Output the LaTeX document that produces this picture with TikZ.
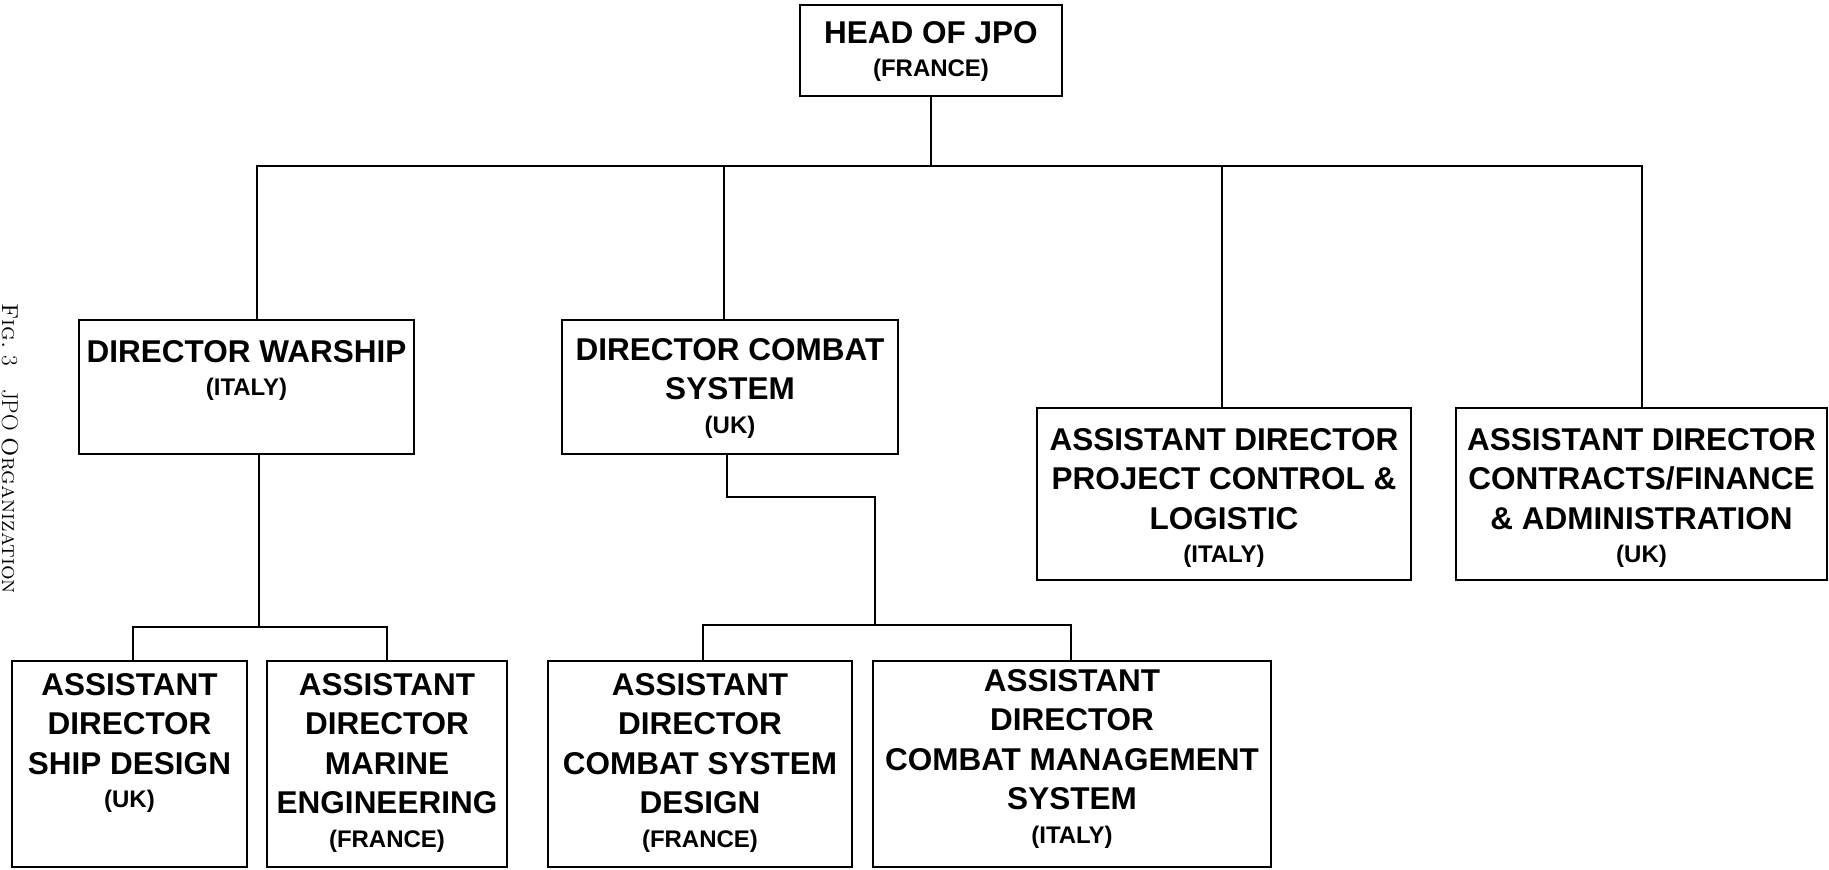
\documentclass[tikz,border=0pt]{standalone}
\usepackage{fontspec}
\newfontfamily\orgfont{Liberation Sans}
\newcommand{\cty}[1]{{\fontsize{24}{30}\selectfont(#1)}}
\begin{document}
\begin{tikzpicture}[x=1pt,y=-1pt,
  box/.style={draw, rectangle, inner sep=0pt, line width=1.8pt},
  txt/.style={anchor=north, align=center, inner sep=0pt, font=\orgfont\bfseries\fontsize{31.5}{39.5}\selectfont},
  conn/.style={draw, line width=1.8pt}]
\useasboundingbox (0,0) rectangle (1829,870);
% boxes
\node[box, minimum width=262pt, minimum height=91pt]  (head)    at (931,50.5) {};
\node[box, minimum width=335pt, minimum height=134pt] (warship) at (246.5,387) {};
\node[box, minimum width=336pt, minimum height=134pt] (combat)  at (730,387) {};
\node[box, minimum width=374pt, minimum height=172pt] (pcl)     at (1224,494) {};
\node[box, minimum width=371pt, minimum height=172pt] (cfa)     at (1641.5,494) {};
\node[box, minimum width=235pt, minimum height=206pt] (ship)    at (129.5,764) {};
\node[box, minimum width=240pt, minimum height=206pt] (marine)  at (387,764) {};
\node[box, minimum width=304pt, minimum height=206pt] (csd)     at (700,764) {};
\node[box, minimum width=398pt, minimum height=206pt] (cms)     at (1072,764) {};
% texts
\node[txt, yshift=-17pt] (headT) at (head.north) {HEAD OF JPO\\[-6pt]\cty{FRANCE}};
\node[txt, yshift=-21pt] (warshipT) at (warship.north) {DIRECTOR WARSHIP\\[-6pt]\cty{ITALY}};
\node[txt, yshift=-19pt] (combatT) at (combat.north) {DIRECTOR COMBAT\\SYSTEM\\[-6pt]\cty{UK}};
\node[txt, yshift=-21pt] (pclT) at (pcl.north) {ASSISTANT DIRECTOR\\PROJECT CONTROL \&\\LOGISTIC\\[-6pt]\cty{ITALY}};
\node[txt, yshift=-21pt] (cfaT) at (cfa.north) {ASSISTANT DIRECTOR\\CONTRACTS/FINANCE\\\& ADMINISTRATION\\[-6pt]\cty{UK}};
\node[txt, yshift=-13pt] (shipT) at (ship.north) {ASSISTANT\\DIRECTOR\\SHIP DESIGN\\[-6pt]\cty{UK}};
\node[txt, yshift=-13pt] (marineT) at (marine.north) {ASSISTANT\\DIRECTOR\\MARINE\\ENGINEERING\\[-6pt]\cty{FRANCE}};
\node[txt, yshift=-13pt] (csdT) at (csd.north) {ASSISTANT\\DIRECTOR\\COMBAT SYSTEM\\DESIGN\\[-6pt]\cty{FRANCE}};
\node[txt, yshift=-9pt] (cmsT) at (cms.north) {ASSISTANT\\DIRECTOR\\COMBAT MANAGEMENT\\SYSTEM\\[-6pt]\cty{ITALY}};
% caption at left edge
\node[rotate=-90, anchor=base west, inner sep=0pt, font=\fontsize{23}{28}\selectfont] (cap) at (2,303) {{\scshape Fig.}~3\quad JPO {\scshape Organization}};
% bus coordinates
\coordinate (bL) at (257,166);
\coordinate (bC) at (724,166);
\coordinate (bP) at (1222,166);
\coordinate (bR) at (1642,166);
\coordinate (wb) at (259,627);
\coordinate (wL) at (133,627);
\coordinate (wR) at (387,627);
\coordinate (c1) at (727,497);
\coordinate (c2) at (875,625);
\coordinate (cL) at (703,625);
\coordinate (cR) at (1071,625);
% connectors
\path[conn] (head.south) -- (head.south |- bL);
\path[conn] (warship.north -| bL) -- (bL) -- (bR) -- (cfa.north -| bR);
\path[conn] (bC) -- (combat.north -| bC);
\path[conn] (bP) -- (pcl.north -| bP);
\path[conn] (warship.south -| wb) -- (wb);
\path[conn] (ship.north -| wL) |- (wR) -- (marine.north -| wR);
\path[conn] (combat.south -| c1) -- (c1) -| (c2);
\path[conn] (csd.north -| cL) |- (cR) -- (cms.north -| cR);
\end{tikzpicture}
\end{document}
